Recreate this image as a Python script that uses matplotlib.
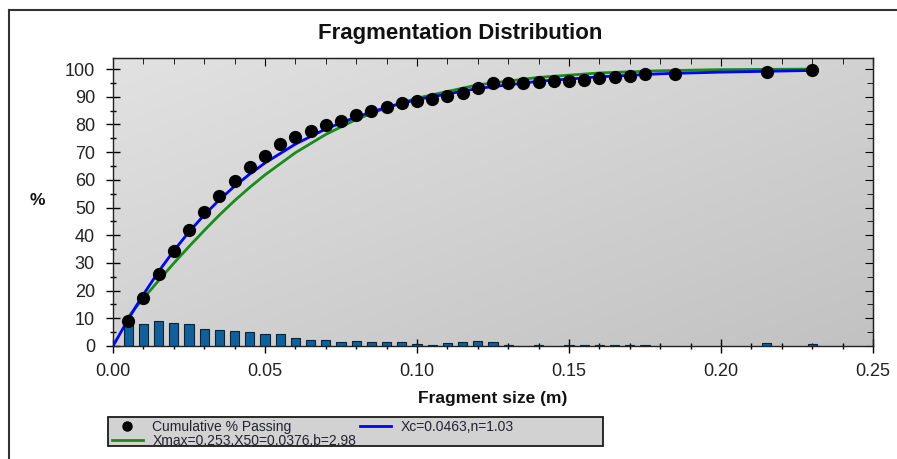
import matplotlib.pyplot as plt
import numpy as np
from matplotlib.lines import Line2D
from matplotlib.patches import Rectangle
from matplotlib.ticker import FormatStrFormatter, MultipleLocator

plt.rcParams["font.family"] = ["Liberation Sans", "DejaVu Sans"]

# cumulative % passing (measured points)
passing_size = [0.005, 0.01, 0.015, 0.02, 0.025, 0.03, 0.035, 0.04, 0.045, 0.05,
                0.055, 0.06, 0.065, 0.07, 0.075, 0.08, 0.085, 0.09, 0.095, 0.10,
                0.105, 0.11, 0.115, 0.12, 0.125, 0.13, 0.135, 0.14, 0.145, 0.15,
                0.155, 0.16, 0.165, 0.17, 0.175, 0.185, 0.215, 0.23]
passing_pct = [9.1, 17.2, 26.1, 34.3, 41.9, 48.3, 54.3, 59.6, 64.6, 68.6,
               72.8, 75.3, 77.7, 79.9, 81.3, 83.4, 84.9, 86.2, 87.7, 88.6,
               89.1, 90.4, 91.2, 93.0, 94.8, 94.8, 94.8, 95.3, 95.7, 95.7,
               96.0, 96.6, 97.2, 97.6, 98.1, 98.1, 99.0, 99.8]

# % retained per size class (bars)
bin_size = [0.005, 0.01, 0.015, 0.02, 0.025, 0.03, 0.035, 0.04, 0.045, 0.05,
            0.055, 0.06, 0.065, 0.07, 0.075, 0.08, 0.085, 0.09, 0.095, 0.10,
            0.105, 0.11, 0.115, 0.12, 0.125, 0.13, 0.14, 0.15, 0.155, 0.16,
            0.165, 0.17, 0.175, 0.215, 0.23]
bin_pct = [8.2, 8.1, 9.0, 8.2, 7.8, 6.3, 5.9, 5.4, 4.9, 4.2,
           4.2, 2.8, 2.3, 2.3, 1.4, 1.9, 1.4, 1.3, 1.3, 0.6,
           0.3, 1.0, 1.4, 1.9, 1.4, 0.3, 0.3, 0.3, 0.3, 0.3,
           0.3, 0.3, 0.3, 1.0, 0.9]

# fitted curves
rr_size = [0, 0.0025, 0.005, 0.0075, 0.01, 0.015, 0.02, 0.025, 0.03, 0.035, 0.04,
           0.045, 0.05, 0.06, 0.07, 0.08, 0.09, 0.10, 0.12, 0.14, 0.16, 0.18,
           0.20, 0.23]
rr_pct = [0, 4.8, 9.6, 14.2, 18.6, 26.9, 34.4, 41.2, 47.3, 52.8, 57.7,
          62.1, 66.1, 72.9, 78.4, 82.7, 86.2, 89.0, 93.0, 95.6, 97.2, 98.3,
          98.9, 99.5]
sw_size = [0.005, 0.0075, 0.01, 0.015, 0.02, 0.025, 0.03, 0.035, 0.04, 0.045,
           0.05, 0.06, 0.07, 0.08, 0.09, 0.10, 0.12, 0.14, 0.16, 0.18, 0.20, 0.23]
sw_pct = [10.4, 13.9, 17.2, 23.6, 29.9, 35.9, 41.7, 47.3, 52.5, 57.3,
          61.8, 69.8, 76.4, 81.8, 86.1, 89.5, 94.3, 97.0, 98.6, 99.4, 99.8, 100.0]

label_points = "Cumulative % Passing"
label_rr = "Xc=0.0463,n=1.03"
label_sw = "Xmax=0.253,X50=0.0376,b=2.98"

W, H = 897, 459
fig = plt.figure(figsize=(W / 100, H / 100), dpi=100)
ax = fig.add_axes([113 / W, 1 - 346 / H, (873 - 113) / W, (346 - 58) / H])

# light grey diagonal gradient, top-left lighter
gx, gy = np.meshgrid(np.linspace(0, 1, 200), np.linspace(0, 1, 200))
shade = 0.885 - 0.125 * 0.5 * (gx + gy)
ax.imshow(np.dstack([shade, shade, shade]), extent=(0, 1, 0, 1),
          transform=ax.transAxes, aspect="auto", zorder=0, origin="upper")

ax.bar(bin_size, bin_pct, width=0.003, color="#11609a", edgecolor="#0a2236",
       linewidth=0.8, zorder=2)
ax.plot(sw_size, sw_pct, color="#1a8c1a", lw=2, zorder=3)
ax.plot(rr_size, rr_pct, color="#0000ff", lw=2, zorder=4)
ax.plot(passing_size, passing_pct, "o", color="black", ms=8.5, zorder=5)

ax.set_xlim(0, 0.25)
ax.set_ylim(0, 104)
ax.xaxis.set_major_locator(MultipleLocator(0.05))
ax.xaxis.set_minor_locator(MultipleLocator(0.01))
ax.xaxis.set_major_formatter(FormatStrFormatter("%.2f"))
ax.yaxis.set_major_locator(MultipleLocator(10))
ax.yaxis.set_minor_locator(MultipleLocator(5))
ax.tick_params(which="major", direction="inout", length=10, width=1,
               labelsize=13, labelcolor="#222222")
ax.tick_params(which="minor", direction="inout", length=5, width=1)
ax.tick_params(axis="y", which="major", pad=8)
ax.tick_params(axis="x", which="major", pad=7)
for sp in ax.spines.values():
    sp.set_color("#222222")
    sp.set_linewidth(1)

top = ax.secondary_xaxis("top")
top.xaxis.set_major_locator(MultipleLocator(0.05))
top.xaxis.set_minor_locator(MultipleLocator(0.01))
top.tick_params(which="major", direction="in", length=6, labeltop=False)
top.tick_params(which="minor", direction="in", length=4)
right = ax.secondary_yaxis("right")
right.yaxis.set_major_locator(MultipleLocator(10))
right.yaxis.set_minor_locator(MultipleLocator(5))
right.tick_params(which="major", direction="in", length=6, labelright=False)
right.tick_params(which="minor", direction="in", length=4)

fig.text(460 / W, 1 - 33 / H, "Fragmentation Distribution", ha="center",
         va="center", fontsize=16, fontweight="bold", color="#111111")
fig.text(493 / W, 1 - 398 / H, "Fragment size (m)", ha="center", va="center",
         fontsize=12.5, fontweight="bold", color="#111111")
fig.text(37 / W, 1 - 200 / H, "%", ha="center", va="center",
         fontsize=12.5, fontweight="bold", color="#111111")

# outer frame
fig.add_artist(Line2D([9 / W, 1], [1 - 10 / H, 1 - 10 / H], color="#333333", lw=1.5))
fig.add_artist(Line2D([9 / W, 9 / W], [0, 1 - 10 / H], color="#333333", lw=1.5))

# legend box
fig.patches.append(Rectangle((108 / W, 1 - 446 / H), (603 - 108) / W, (446 - 417) / H,
                             transform=fig.transFigure, facecolor="#d2d2d2",
                             edgecolor="#1a1a1a", lw=1.3, zorder=1))
h_pts = Line2D([], [], marker="o", ls="none", color="black", ms=6.5)
h_sw = Line2D([], [], color="#1a8c1a", lw=2)
h_rr = Line2D([], [], color="#0000ff", lw=2)
fig.legend([h_pts, h_sw, h_rr], [label_points, label_sw, label_rr], ncol=2,
           loc="upper left", bbox_to_anchor=(112 / W, 1 - 420 / H),
           frameon=False, fontsize=10, labelspacing=0.0, handlelength=2.2,
           handletextpad=0.7, columnspacing=0.3, borderpad=0, borderaxespad=0,
           labelcolor="#222233")

fig.savefig("out.png", dpi=100)
